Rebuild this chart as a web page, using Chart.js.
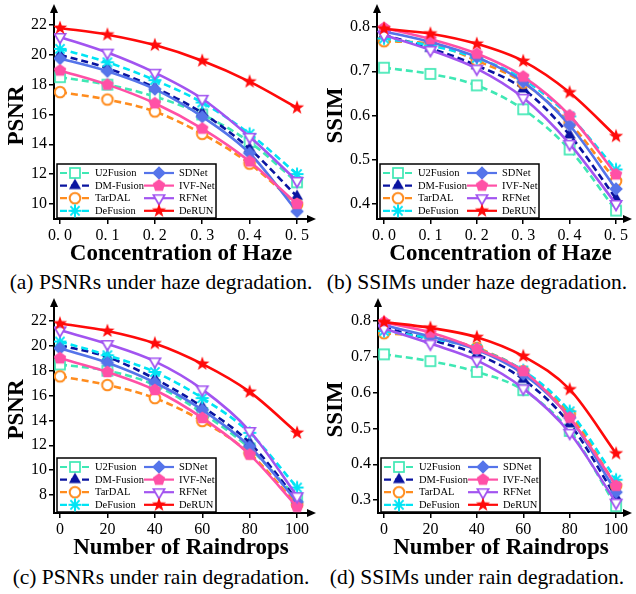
<!DOCTYPE html>
<html>
<head>
<meta charset="utf-8">
<script src="https://cdn.jsdelivr.net/npm/chart.js@4.4.1/dist/chart.umd.min.js"></script>
<style>
body{margin:0;background:#fff;width:636px;height:594px;position:relative;overflow:hidden;font-family:"Liberation Serif","Times New Roman",serif}
canvas{position:absolute}
.cap{position:absolute;width:318px;text-align:center;font-size:21.5px;line-height:24px;color:#000;white-space:nowrap}
</style>
</head>
<body>
<canvas id="psnrHaze" width="318" height="270" style="left:0;top:0"></canvas>
<canvas id="ssimHaze" width="318" height="270" style="left:318px;top:0"></canvas>
<canvas id="psnrRain" width="318" height="270" style="left:0;top:294px"></canvas>
<canvas id="ssimRain" width="318" height="270" style="left:318px;top:294px"></canvas>
<div class="cap" style="left:2px;top:270px">(a) PSNRs under haze degradation.</div>
<div class="cap" style="left:318px;top:270px">(b) SSIMs under haze degradation.</div>
<div class="cap" style="left:2px;top:565px">(c) PSNRs under rain degradation.</div>
<div class="cap" style="left:318px;top:565px">(d) SSIMs under rain degradation.</div>
<script>
/* ---------- data ---------- */
const methods = ['U2Fusion', 'DM-Fusion', 'TarDAL', 'DeFusion', 'SDNet', 'IVF-Net', 'RFNet', 'DeRUN'];

const hazeLevels = [0, 0.1, 0.2, 0.3, 0.4, 0.5];
const hazeLabels = ['0. 0', '0. 1', '0. 2', '0. 3', '0. 4', '0. 5'];
const rainLevels = [0, 20, 40, 60, 80, 100];
const rainLabels = ['0', '20', '40', '60', '80', '100'];

const psnrHazeTicks = [10, 12, 14, 16, 18, 20, 22];
const ssimHazeTicks = [0.4, 0.5, 0.6, 0.7, 0.8];
const psnrRainTicks = [8, 10, 12, 14, 16, 18, 20, 22];
const ssimRainTicks = [0.3, 0.4, 0.5, 0.6, 0.7, 0.8];

// one row per method, same order as methods
const psnrHaze = [
	[18.5, 18.0, 17.2, 16.0, 14.15, 11.45],
	[20.0, 19.1, 17.8, 16.1, 13.7, 10.5],
	[17.5, 17.0, 16.2, 14.7, 12.7, 9.95],
	[20.4, 19.5, 18.3, 16.8, 14.7, 12.0],
	[19.75, 18.9, 17.7, 15.85, 13.4, 9.5],
	[18.95, 18.0, 16.75, 15.05, 12.85, 10.0],
	[21.2, 20.15, 18.8, 17.05, 14.5, 11.55],
	[21.8, 21.35, 20.65, 19.6, 18.2, 16.45]
];
const ssimHaze = [
	[0.708, 0.694, 0.668, 0.614, 0.523, 0.385],
	[0.782, 0.752, 0.713, 0.660, 0.556, 0.412],
	[0.768, 0.762, 0.724, 0.674, 0.583, 0.452],
	[0.774, 0.758, 0.730, 0.682, 0.598, 0.478],
	[0.790, 0.766, 0.732, 0.676, 0.578, 0.434],
	[0.798, 0.773, 0.740, 0.688, 0.600, 0.467],
	[0.782, 0.748, 0.706, 0.640, 0.536, 0.400],
	[0.796, 0.785, 0.762, 0.723, 0.652, 0.553]
];
const psnrRain = [
	[18.5, 18.0, 16.85, 14.6, 11.75, 7.75],
	[20.05, 19.1, 17.35, 15.1, 12.2, 7.6],
	[17.55, 16.85, 15.8, 13.95, 11.35, 7.2],
	[20.35, 19.25, 17.9, 15.8, 13.0, 8.6],
	[19.8, 18.65, 17.05, 14.85, 11.9, 7.45],
	[19.0, 17.9, 16.45, 14.2, 11.25, 7.05],
	[21.25, 20.15, 18.75, 16.5, 13.15, 7.9],
	[21.8, 21.2, 20.2, 18.55, 16.3, 13.0]
];
const ssimRain = [
	[0.707, 0.688, 0.658, 0.607, 0.493, 0.283],
	[0.782, 0.748, 0.707, 0.637, 0.513, 0.308],
	[0.766, 0.755, 0.725, 0.660, 0.540, 0.340],
	[0.772, 0.752, 0.722, 0.662, 0.548, 0.357],
	[0.788, 0.757, 0.720, 0.652, 0.530, 0.322],
	[0.797, 0.768, 0.722, 0.660, 0.530, 0.340],
	[0.779, 0.737, 0.690, 0.612, 0.488, 0.293],
	[0.797, 0.781, 0.755, 0.702, 0.609, 0.430]
];

/* ---------- styles ---------- */
const colors = ['#3fe8b4', '#0a14a0', '#ff8c1e', '#00e4f4', '#5574ea', '#ff50a6', '#a254f0', '#ff0a0a'];
const dashed = [true, true, true, true, false, false, false, false];
const markers = ['square', 'triangle', 'circle', 'asterisk', 'diamond', 'pentagon', 'downTriangle', 'star'];
const FONT = '"Liberation Serif", "Times New Roman", serif';

function polygon(g, n, r, rot) {
	g.beginPath();
	for (let k = 0; k < n; k++) {
		const a = rot + k * 2 * Math.PI / n;
		g.lineTo(r * Math.cos(a), r * Math.sin(a));
	}
	g.closePath();
}

function markerImage(kind, color) {
	const c = document.createElement('canvas');
	c.width = 18; c.height = 18;
	const g = c.getContext('2d');
	g.translate(9, 9);
	g.strokeStyle = color;
	g.fillStyle = color;
	g.lineWidth = 1.7;
	if (kind === 'square') {
		g.fillStyle = '#fff';
		g.fillRect(-5, -5, 10, 10);
		g.strokeRect(-5, -5, 10, 10);
	} else if (kind === 'triangle') {
		polygon(g, 3, 7, -Math.PI / 2);
		g.fill();
	} else if (kind === 'circle') {
		g.beginPath();
		g.arc(0, 0, 5.3, 0, 2 * Math.PI);
		g.fillStyle = '#fff';
		g.fill();
		g.lineWidth = 2;
		g.stroke();
	} else if (kind === 'asterisk') {
		g.lineWidth = 2;
		g.beginPath();
		for (let k = 0; k < 4; k++) {
			const a = k * Math.PI / 4;
			g.moveTo(-6.5 * Math.cos(a), -6.5 * Math.sin(a));
			g.lineTo(6.5 * Math.cos(a), 6.5 * Math.sin(a));
		}
		g.stroke();
	} else if (kind === 'diamond') {
		polygon(g, 4, 6.8, 0);
		g.fill();
	} else if (kind === 'pentagon') {
		polygon(g, 5, 6.6, -Math.PI / 2);
		g.fill();
	} else if (kind === 'downTriangle') {
		polygon(g, 3, 6.5, Math.PI / 2);
		g.fillStyle = '#fff';
		g.fill();
		g.stroke();
	} else if (kind === 'star') {
		g.beginPath();
		for (let k = 0; k < 10; k++) {
			const r = k % 2 ? 3 : 7.5;
			const a = -Math.PI / 2 + k * Math.PI / 5;
			g.lineTo(r * Math.cos(a), r * Math.sin(a));
		}
		g.closePath();
		g.fill();
	}
	return c;
}

/* ---------- plugins ---------- */
const axisArrows = {
	id: 'axisArrows',
	afterDraw(chart) {
		const {ctx, chartArea: a} = chart;
		ctx.save();
		ctx.fillStyle = '#000';
		ctx.beginPath();
		ctx.moveTo(a.left, a.top - 8);
		ctx.lineTo(a.left - 4, a.top + 1);
		ctx.lineTo(a.left + 4, a.top + 1);
		ctx.closePath();
		ctx.fill();
		ctx.beginPath();
		ctx.moveTo(a.right + 8, a.bottom);
		ctx.lineTo(a.right - 1, a.bottom - 4);
		ctx.lineTo(a.right - 1, a.bottom + 4);
		ctx.closePath();
		ctx.fill();
		ctx.restore();
	}
};

const insideLegend = {
	id: 'insideLegend',
	afterDatasetsDraw(chart) {
		const {ctx, chartArea} = chart;
		const w = 159, h = 54;
		const x0 = chartArea.left + 3, y0 = chartArea.bottom - h - 1;
		ctx.save();
		ctx.fillStyle = '#fff';
		ctx.fillRect(x0, y0, w, h);
		ctx.strokeStyle = '#000';
		ctx.lineWidth = 1.5;
		ctx.strokeRect(x0, y0, w, h);
		chart.data.datasets.forEach((ds, i) => {
			const sx = x0 + 3 + Math.floor(i / 4) * 84;
			const sy = y0 + 9 + (i % 4) * 12.6;
			ctx.strokeStyle = ds.borderColor;
			ctx.lineWidth = 2.2;
			ctx.setLineDash(ds.borderDash);
			ctx.beginPath();
			ctx.moveTo(sx, sy);
			ctx.lineTo(sx + 30, sy);
			ctx.stroke();
			ctx.setLineDash([]);
			ctx.drawImage(ds.pointStyle, sx + 15 - 9, sy - 9);
			ctx.fillStyle = '#000';
			ctx.font = '10.5px ' + FONT;
			ctx.textBaseline = 'middle';
			ctx.fillText(ds.label, sx + 35, sy + 0.5);
		});
		ctx.restore();
	}
};

/* ---------- charts ---------- */
function makeChart(id, xs, xLabels, yTicks, yDigits, values, cfg) {
	const datasets = methods.map((name, i) => ({
		label: name,
		data: xs.map((x, j) => ({x: x, y: values[i][j]})),
		borderColor: colors[i],
		backgroundColor: colors[i],
		borderWidth: 2.6,
		borderDash: dashed[i] ? [7, 4] : [],
		pointStyle: markerImage(markers[i], colors[i]),
		pointRadius: 5,
		cubicInterpolationMode: 'monotone',
		order: methods.length - i
	}));
	const tickFont = {family: FONT, size: 16};
	const titleFont = {family: FONT, size: 23, weight: 'bold'};
	return new Chart(document.getElementById(id), {
		type: 'line',
		data: {datasets: datasets},
		options: {
			responsive: false,
			animation: false,
			layout: {padding: {top: 12, right: cfg.padRight, left: 0, bottom: 0}},
			plugins: {legend: {display: false}, tooltip: {enabled: false}},
			scales: {
				x: {
					type: 'linear',
					min: cfg.xMin,
					max: cfg.xMax,
					afterBuildTicks: (s) => { s.ticks = xs.map(v => ({value: v})); },
					afterFit: (s) => { s.height = 51; },
					ticks: {callback: (v, i) => xLabels[i], font: tickFont, color: '#000', maxRotation: 0, autoSkip: false, padding: 2},
					grid: {drawOnChartArea: false, tickLength: 5, color: '#000', lineWidth: 1.5},
					border: {color: '#000', width: 2},
					title: {display: true, text: cfg.xTitle, font: titleFont, color: '#000', padding: {top: 0, bottom: 2}}
				},
				y: {
					type: 'linear',
					min: cfg.yMin,
					max: cfg.yMax,
					afterBuildTicks: (s) => { s.ticks = yTicks.map(v => ({value: v})); },
					afterFit: (s) => { s.width = cfg.yWidth; },
					ticks: {callback: (v, i) => yTicks[i].toFixed(yDigits), font: tickFont, color: '#000', padding: 2},
					grid: {drawOnChartArea: false, tickLength: 5, color: '#000', lineWidth: 1.5},
					border: {color: '#000', width: 2},
					title: {display: true, text: cfg.yTitle, font: titleFont, color: '#000', padding: {top: cfg.yTitlePad, bottom: 0}}
				}
			}
		},
		plugins: [insideLegend, axisArrows]
	});
}

makeChart('psnrHaze', hazeLevels, hazeLabels, psnrHazeTicks, 0, psnrHaze, {
	xMin: -0.0127, xMax: 0.5232, yMin: 8.99, yMax: 22.87,
	yWidth: 54, padRight: 10, xTitle: 'Concentration of Haze', yTitle: 'PSNR', yTitlePad: 3
});
makeChart('ssimHaze', hazeLevels, hazeLabels, ssimHazeTicks, 1, ssimHaze, {
	xMin: -0.0151, xMax: 0.5172, yMin: 0.366, yMax: 0.834,
	yWidth: 59, padRight: 12, xTitle: 'Concentration of Haze', yTitle: 'SSIM', yTitlePad: 4
});
makeChart('psnrRain', rainLevels, rainLabels, psnrRainTicks, 0, psnrRain, {
	xMin: -2.53, xMax: 104.6, yMin: 6.55, yMax: 23.21,
	yWidth: 54, padRight: 10, xTitle: 'Number of Raindrops', yTitle: 'PSNR', yTitlePad: 3
});
makeChart('ssimRain', rainLevels, rainLabels, ssimRainTicks, 1, ssimRain, {
	xMin: -2.59, xMax: 103.4, yMin: 0.264, yMax: 0.842,
	yWidth: 60, padRight: 12, xTitle: 'Number of Raindrops', yTitle: 'SSIM', yTitlePad: 4
});
</script>
</body>
</html>
